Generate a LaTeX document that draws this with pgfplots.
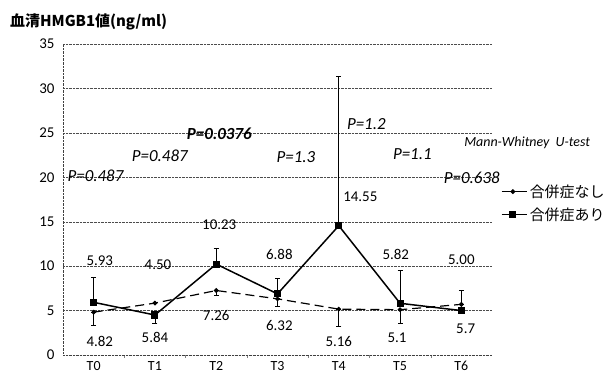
\documentclass[border=0pt]{standalone}
\usepackage{fontspec}
\setmainfont{Carlito}
\newfontfamily\jp{Noto Sans CJK JP}
\usepackage{pgfplots}
\pgfplotsset{compat=1.18}
\begin{document}
\begin{tikzpicture}
\begin{axis}[
  scale only axis, width=429bp, height=311bp,
  xmin=-0.5, xmax=6.5, ymin=0, ymax=35,
  xtick={0,...,6}, xticklabels={T0,T1,T2,T3,T4,T5,T6},
  ytick={0,5,...,35},
  major tick length=0pt,
  minor xtick={0.5,1.5,...,5.5}, minor tick length=3bp, tick align=outside,
  axis x line*=bottom, axis y line*=left,
  axis line style={densely dotted, black!75, -},
  ymajorgrids, grid style={densely dotted, black!70},
  tick label style={font=\fontsize{15}{15}\selectfont},
  xticklabel style={font=\fontsize{14}{14}\selectfont, yshift=-3bp},
  yticklabel style={xshift=-5bp},
  /pgf/number format/assume math mode=true,
  clip=false,
  legend style={at={(1.02,0.555)}, anchor=north west, draw=none, fill=none,
    font=\jp\fontsize{15}{15}\selectfont, row sep=5bp, inner sep=0pt},
  legend cell align=left,
  legend image code/.code={\draw[#1, solid] (0cm,0cm) -- (0.9cm,0cm); \draw[#1, solid, only marks] plot coordinates {(0.4cm,0cm)};},
]
\coordinate (sw) at (rel axis cs:0,0);
\coordinate (ne) at (rel axis cs:1,1);
% 合併症なし
\addplot[black, line width=1.2pt, dash pattern=on 9bp off 5bp, mark=*, mark size=1.7bp, mark options={solid},
  error bars/.cd, y dir=both, y explicit, error bar style={solid, line width=0.8pt},
  error mark options={rotate=90, mark size=2.5bp, solid, line width=0.8pt}]
coordinates {
(0,4.82) += (0,0) -= (0,1.5)
(1,5.84) += (0,0) -= (0,0)
(2,7.26) += (0,0) -= (0,0.6)
(3,6.32) += (0,0) -= (0,0.8)
(4,5.16) += (0,0) -= (0,1.9)
(5,5.1) += (0,0) -= (0,1.5)
(6,5.7) += (0,1.6) -= (0,0)
};
\addlegendentry{合併症なし}
% 合併症あり
\addplot[black, line width=1.5pt, mark=square*, mark size=2.8bp, mark options={solid},
  error bars/.cd, y dir=both, y explicit, error bar style={solid, line width=0.8pt},
  error mark options={rotate=90, mark size=2.5bp, solid, line width=0.8pt}]
coordinates {
(0,5.93) += (0,2.8) -= (0,0)
(1,4.50) += (0,0) -= (0,0.9)
(2,10.23) += (0,1.8) -= (0,0)
(3,6.88) += (0,1.7) -= (0,0)
(4,14.55) += (0,16.8) -= (0,0)
(5,5.82) += (0,3.7) -= (0,0)
(6,5.00) += (0,0) -= (0,0)
};
\addlegendentry{合併症あり}
% value labels
\begin{scope}[every node/.style={font=\fontsize{15}{15}\selectfont, inner sep=0pt}]
\node at (axis cs:0.1,10.6) {5.93};
\node at (axis cs:0.1,1.5) {4.82};
\node at (axis cs:1.05,10.2) {4.50};
\node at (axis cs:1.0,2.0) {5.84};
\node at (axis cs:2.05,14.7) {10.23};
\node at (axis cs:2.0,4.4) {7.26};
\node at (axis cs:3.03,11.3) {6.88};
\node at (axis cs:3.03,3.3) {6.32};
\node[anchor=west] at (axis cs:4.07,17.8) {14.55};
\node at (axis cs:4.0,1.5) {5.16};
\node at (axis cs:4.93,11.3) {5.82};
\node at (axis cs:4.95,1.9) {5.1};
\node at (axis cs:6.0,10.7) {5.00};
\node at (axis cs:6.07,2.9) {5.7};
\end{scope}
% p values
\begin{scope}[every node/.style={font=\itshape\fontsize{17}{17}\selectfont, inner sep=0pt}]
\node at (axis cs:0.03,20.2) {P=0.487};
\node at (axis cs:1.08,22.4) {P=0.487};
\node[font=\bfseries\itshape\fontsize{17}{17}\selectfont] at (axis cs:2.05,24.9) {P=0.0376};
\node at (axis cs:3.3,22.3) {P=1.3};
\node at (axis cs:4.45,26.0) {P=1.2};
\node at (axis cs:5.2,22.6) {P=1.1};
\node at (axis cs:6.17,20.0) {P=0.638};
\node[font=\itshape\fontsize{14}{14}\selectfont] at (rel axis cs:1.082,0.682) {Mann-Whitney\ \ U-test};
\end{scope}
\node[anchor=west, inner sep=0pt, font=\jp\bfseries\fontsize{15}{15}\selectfont] at (rel axis cs:-0.1235,1.071) {血清HMGB1値(ng/ml)};
\end{axis}
\pgfresetboundingbox
\path[use as bounding box] ([shift={(-63bp,-28bp)}]sw) rectangle ([shift={(122bp,44bp)}]ne);
\end{tikzpicture}
\end{document}
